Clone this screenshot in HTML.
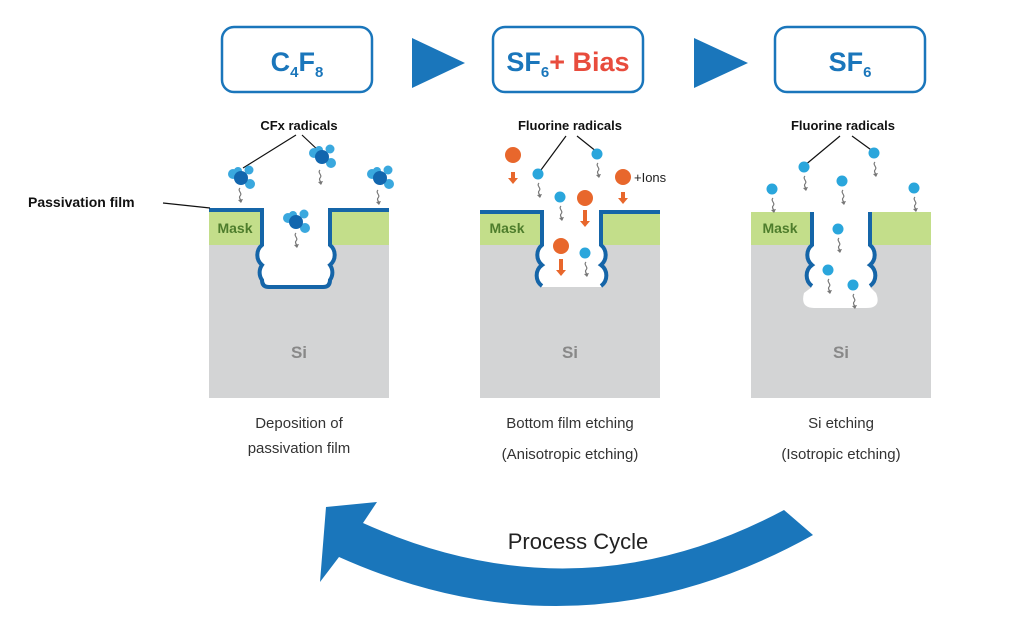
<!DOCTYPE html>
<html><head><meta charset="utf-8"><style>
body{margin:0;background:#fff;width:1024px;height:637px;overflow:hidden}
svg{display:block}
text{font-family:"Liberation Sans",Arial,sans-serif}
</style></head><body>
<svg width="1024" height="637" viewBox="0 0 1024 637">
<defs>
<g id="sq"><path d="M0,0 c-3,3 3,5 0,8 c-2,2 2,4 1,6" fill="none" stroke="#777" stroke-width="1.2"/><path d="M-2,12 l3,3 l2,-4z" fill="#777"/></g>
<g id="cfx"><circle cx="-8" cy="-4" r="5" fill="#3aa8de"/><circle cx="8" cy="-8" r="4.5" fill="#3aa8de"/><circle cx="9" cy="6" r="5" fill="#3aa8de"/><circle cx="-3" cy="-7" r="4" fill="#3aa8de"/><circle cx="0" cy="0" r="7" fill="#1266ae"/></g>
<g id="f"><circle r="5.5" fill="#2aa6dc"/></g>
</defs>
<g fill="#fff" stroke="#1a76bb" stroke-width="2.5">
<rect x="222" y="27" width="150" height="65" rx="12"/>
<rect x="493" y="27" width="150" height="65" rx="12"/>
<rect x="775" y="27" width="150" height="65" rx="12"/>
</g>
<polygon points="412,38 465,63 412,88" fill="#1a76bb"/>
<polygon points="694,38 748,63 694,88" fill="#1a76bb"/>
<text x="297" y="71" font-size="27" font-weight="bold" fill="#1a76bb" text-anchor="middle">C<tspan font-size="15" dy="6">4</tspan><tspan dy="-6">F</tspan><tspan font-size="15" dy="6">8</tspan></text>
<text x="568" y="71" font-size="27" font-weight="bold" fill="#1a76bb" text-anchor="middle">SF<tspan font-size="15" dy="6">6</tspan><tspan dy="-6" fill="#e84c3d">+ Bias</tspan></text>
<text x="850" y="71" font-size="27" font-weight="bold" fill="#1a76bb" text-anchor="middle">SF<tspan font-size="15" dy="6">6</tspan></text>

<!-- panel 1 -->
<rect x="209" y="245" width="180" height="153" fill="#d3d4d5"/>
<rect x="209" y="210" width="180" height="35" fill="#c3de8a"/>
<path d="M262,210 L262,245 A13,13 0 0 0 262,265 A13,13 0 0 0 262,280 Q262,287 269,287 L323,287 Q330,287 330,280 A13,13 0 0 0 330,265 A13,13 0 0 0 330,245 L330,210 Z" fill="#fff"/>
<path d="M209,210 L262,210 L262,245 A13,13 0 0 0 262,265 A13,13 0 0 0 262,280 Q262,287 269,287 L323,287 Q330,287 330,280 A13,13 0 0 0 330,265 A13,13 0 0 0 330,245 L330,210 L389,210" fill="none" stroke="#1565a8" stroke-width="4"/>
<text x="235" y="233" font-size="14" font-weight="bold" fill="#4e7d2c" text-anchor="middle">Mask</text>
<text x="299" y="358" font-size="17" font-weight="bold" fill="#888" text-anchor="middle">Si</text>
<text x="299" y="130" font-size="13" font-weight="bold" fill="#111" text-anchor="middle">CFx radicals</text>
<path d="M296,135 L243,168 M302,135 L320,152" stroke="#111" stroke-width="1.2"/>
<text x="28" y="207" font-size="14" font-weight="bold" fill="#111">Passivation film</text>
<path d="M163,203 L210,208" stroke="#111" stroke-width="1.2"/>
<use href="#cfx" x="241" y="178"/><use href="#sq" x="240" y="188"/>
<use href="#cfx" x="322" y="157"/><use href="#sq" x="320" y="170"/>
<use href="#cfx" x="380" y="178"/><use href="#sq" x="378" y="190"/>
<use href="#cfx" x="296" y="222"/><use href="#sq" x="296" y="233"/>
<text x="299" y="428" font-size="15" fill="#333" text-anchor="middle">Deposition of</text>
<text x="299" y="453" font-size="15" fill="#333" text-anchor="middle">passivation film</text>

<!-- panel 2 -->
<rect x="480" y="245" width="180" height="153" fill="#d3d4d5"/>
<rect x="480" y="212" width="180" height="33" fill="#c3de8a"/>
<path d="M542,212 L542,245 A13,13 0 0 0 542,265 A13,13 0 0 0 542,287 L601,287 A13,13 0 0 0 601,265 A13,13 0 0 0 601,245 L601,212 Z" fill="#fff"/>
<path d="M480,212 L542,212 L542,245 A13,13 0 0 0 542,265 A13,13 0 0 0 542,286 M601,286 A13,13 0 0 0 601,265 A13,13 0 0 0 601,245 L601,212 L660,212" fill="none" stroke="#1565a8" stroke-width="4"/>
<text x="507" y="233" font-size="14" font-weight="bold" fill="#4e7d2c" text-anchor="middle">Mask</text>
<text x="570" y="358" font-size="17" font-weight="bold" fill="#888" text-anchor="middle">Si</text>
<text x="570" y="130" font-size="13" font-weight="bold" fill="#111" text-anchor="middle">Fluorine radicals</text>
<path d="M566,136 L538,174 M577,136 L597,152" stroke="#111" stroke-width="1.2"/>
<g fill="#e8672c">
<circle cx="513" cy="155" r="8"/><rect x="511" y="172" width="4" height="7"/><path d="M508,178 l10,0 l-5,6z"/>
<circle cx="623" cy="177" r="8"/><rect x="621" y="192" width="4" height="7"/><path d="M618,198 l10,0 l-5,6z"/>
<circle cx="585" cy="198" r="8"/><rect x="583" y="210" width="4" height="12"/><path d="M580,221 l10,0 l-5,6z"/>
<circle cx="561" cy="246" r="8"/><rect x="559" y="259" width="4" height="12"/><path d="M556,270 l10,0 l-5,6z"/>
</g>
<text x="634" y="182" font-size="13" fill="#222">+Ions</text>
<use href="#f" x="538" y="174"/><use href="#sq" x="539" y="183"/>
<use href="#f" x="597" y="154"/><use href="#sq" x="598" y="163"/>
<use href="#f" x="560" y="197"/><use href="#sq" x="561" y="206"/>
<use href="#f" x="585" y="253"/><use href="#sq" x="586" y="262"/>
<text x="570" y="428" font-size="15" fill="#333" text-anchor="middle">Bottom film etching</text>
<text x="570" y="459" font-size="15" fill="#333" text-anchor="middle">(Anisotropic etching)</text>

<!-- panel 3 -->
<rect x="751" y="245" width="180" height="153" fill="#d3d4d5"/>
<rect x="751" y="212" width="180" height="33" fill="#c3de8a"/>
<path d="M812,212 L812,245 A13,13 0 0 0 812,265 A13,13 0 0 0 812,287 L804,293 Q800,308 814,308 L866,308 Q882,308 876,293 L870,287 A13,13 0 0 0 870,265 A13,13 0 0 0 870,245 L870,212 Z" fill="#fff"/>
<path d="M812,212 L812,245 A13,13 0 0 0 812,265 A13,13 0 0 0 812,286 M870,286 A13,13 0 0 0 870,265 A13,13 0 0 0 870,245 L870,212" fill="none" stroke="#1565a8" stroke-width="4"/>
<text x="780" y="233" font-size="14" font-weight="bold" fill="#4e7d2c" text-anchor="middle">Mask</text>
<text x="841" y="358" font-size="17" font-weight="bold" fill="#888" text-anchor="middle">Si</text>
<text x="843" y="130" font-size="13" font-weight="bold" fill="#111" text-anchor="middle">Fluorine radicals</text>
<path d="M840,136 L804,166 M852,136 L874,152" stroke="#111" stroke-width="1.2"/>
<use href="#f" x="804" y="167"/><use href="#sq" x="805" y="176"/>
<use href="#f" x="874" y="153"/><use href="#sq" x="875" y="162"/>
<use href="#f" x="772" y="189"/><use href="#sq" x="773" y="198"/>
<use href="#f" x="842" y="181"/><use href="#sq" x="843" y="190"/>
<use href="#f" x="914" y="188"/><use href="#sq" x="915" y="197"/>
<use href="#f" x="838" y="229"/><use href="#sq" x="839" y="238"/>
<use href="#f" x="828" y="270"/><use href="#sq" x="829" y="279"/>
<use href="#f" x="853" y="285"/><use href="#sq" x="854" y="294"/>
<text x="841" y="428" font-size="15" fill="#333" text-anchor="middle">Si etching</text>
<text x="841" y="459" font-size="15" fill="#333" text-anchor="middle">(Isotropic etching)</text>

<path d="M326,507 L377,502 L363,523 Q578,620 784,510 L813,535 Q580,665 339,557 L320,582 Z" fill="#1a76bb"/>
<text x="578" y="549" font-size="22" fill="#222" text-anchor="middle">Process Cycle</text>
</svg>
</body></html>
